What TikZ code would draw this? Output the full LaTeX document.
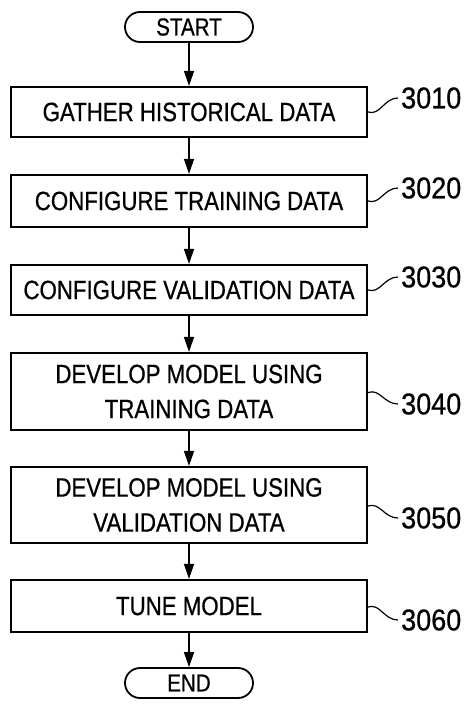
\documentclass[tikz,border=0pt]{standalone}
\usepackage{fontspec}
\setmainfont[FakeStretch=0.84,FakeBold=0.7]{Liberation Sans}
\newfontfamily\reffont[FakeStretch=0.9,FakeBold=0.7]{Liberation Sans}
\usetikzlibrary{arrows.meta}
\begin{document}
\begin{tikzpicture}[x=1pt,y=-1pt,
  stepbox/.style={draw,line width=2.2pt,minimum width=356pt,inner sep=0pt,align=center,font=\fontsize{26.5}{35}\selectfont},
  term/.style={draw,line width=1.8pt,rounded corners=15pt,minimum width=128pt,minimum height=30pt,inner sep=0pt,font=\fontsize{24.5}{28}\selectfont},
  flow/.style={line width=1.5pt,-{Triangle[length=15pt,width=10pt]}},
  ref/.style={anchor=west,inner sep=0pt,font=\reffont\fontsize{30}{32}\selectfont},
  lead/.style={line width=1.2pt}]
\useasboundingbox (0,0) rectangle (469,706);
\node[term] (start) at (189,27) {START};
\node[stepbox,minimum height=50pt] (b1) at (189,112) {GATHER HISTORICAL DATA};
\node[stepbox,minimum height=52pt] (b2) at (189,201) {CONFIGURE TRAINING DATA};
\node[stepbox,minimum height=50pt] (b3) at (189,290) {CONFIGURE VALIDATION DATA};
\node[stepbox,minimum height=77pt] (b4) at (189,391.5) {DEVELOP MODEL USING\\TRAINING DATA};
\node[stepbox,minimum height=76pt] (b5) at (189,505) {DEVELOP MODEL USING\\VALIDATION DATA};
\node[stepbox,minimum height=52pt] (b6) at (189,606) {TUNE MODEL};
\node[term] (end) at (189,683) {END};
\draw[flow] (start) -- (b1);
\draw[flow] (b1) -- (b2);
\draw[flow] (b2) -- (b3);
\draw[flow] (b3) -- (b4);
\draw[flow] (b4) -- (b5);
\draw[flow] (b5) -- (b6);
\draw[flow] (b6) -- (end);
\node[ref] (l1) at (401,98) {3010};
\node[ref] (l2) at (401,188) {3020};
\node[ref] (l3) at (401,277) {3030};
\node[ref] (l4) at (401,404) {3040};
\node[ref] (l5) at (401,518) {3050};
\node[ref] (l6) at (401,620) {3060};
\foreach \i in {1,2,3}{
  \draw[lead] (b\i.east) .. controls +(12,4) and +(-14,0) .. ([xshift=-3pt]l\i.west);
}
\foreach \i in {4,5,6}{
  \draw[lead] ([yshift=-1pt]b\i.east) .. controls +(12,-4) and +(-14,0) .. ([xshift=-3pt]l\i.west);
}
\end{tikzpicture}
\end{document}
